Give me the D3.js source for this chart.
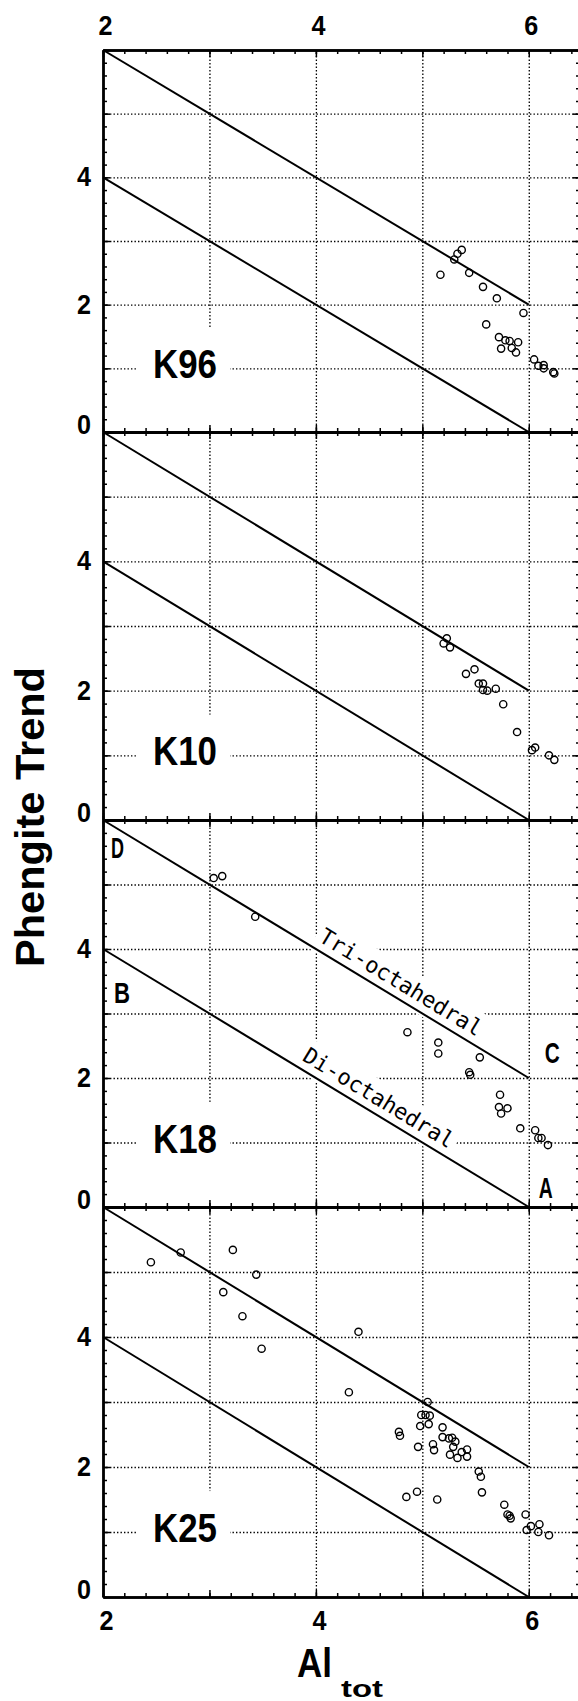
<!DOCTYPE html>
<html>
<head>
<meta charset="utf-8">
<script src="https://cdn.jsdelivr.net/npm/d3@7"></script>
<style>
  body { margin: 0; background: #fff; }
  svg { display: block; }
  text { font-family: "Liberation Sans", Arial, sans-serif; }
</style>
</head>
<body>
<svg id="chart"></svg>
<script>
// panels and ticks
var panelNames = ["K96", "K10", "K18", "K25"];
var xTickLabels = [2, 4, 6];
var yTickLabels = [0, 2, 4];

// [Al tot, phengite trend]
var k96 = [[5.17,2.47],[5.30,2.71],[5.33,2.80],[5.37,2.86],[5.44,2.50],[5.57,2.28],[5.70,2.10],
  [5.95,1.87],[5.60,1.69],[5.72,1.49],[5.78,1.44],[5.82,1.43],[5.90,1.41],[5.74,1.31],[5.84,1.32],
  [5.88,1.25],[6.05,1.14],[6.09,1.04],[6.14,1.05],[6.14,1.00],[6.23,0.94],[6.24,0.92]];
var k10 = [[5.23,2.81],[5.20,2.73],[5.26,2.67],[5.41,2.26],[5.49,2.33],[5.53,2.11],[5.57,2.11],
  [5.57,2.01],[5.61,2.00],[5.69,2.03],[5.76,1.79],[5.89,1.36],[6.03,1.08],[6.06,1.12],[6.19,1.00],
  [6.24,0.93]];
var k18 = [[3.04,5.10],[3.12,5.13],[3.43,4.50],[4.86,2.71],[5.15,2.55],[5.15,2.38],[5.54,2.32],
  [5.44,2.09],[5.45,2.05],[5.73,1.74],[5.72,1.55],[5.80,1.53],[5.74,1.45],[5.92,1.22],[6.06,1.19],
  [6.09,1.07],[6.12,1.07],[6.18,0.96]];
var k25 = [[2.45,5.15],[2.73,5.30],[3.22,5.34],[3.44,4.96],[3.13,4.69],[3.31,4.32],[3.49,3.82],
  [4.40,4.08],[4.31,3.15],[5.05,3.00],[4.99,2.80],[5.03,2.80],[5.07,2.79],[4.98,2.63],[5.06,2.66],
  [4.78,2.54],[4.79,2.48],[5.19,2.61],[5.19,2.46],[5.25,2.44],[5.28,2.45],[5.31,2.39],[5.29,2.31],
  [4.96,2.31],[5.10,2.35],[5.11,2.26],[5.26,2.19],[5.33,2.14],[5.37,2.23],[5.42,2.27],[5.42,2.16],
  [5.53,1.93],[5.55,1.85],[5.56,1.61],[4.85,1.54],[4.95,1.62],[5.14,1.50],[5.77,1.42],[5.80,1.27],
  [5.82,1.25],[5.83,1.21],[5.97,1.27],[6.02,1.09],[5.98,1.03],[6.10,1.12],[6.09,1.00],[6.19,0.95]];
var samples = [k96, k10, k18, k25];

// the two reference lines
var trendNames = ["Tri-octahedral", "Di-octahedral"];
var trendStart = [[2, 6], [2, 4]];
var trendEnd = [[6, 2], [6, 0]];

// end point letters (only on K18)
var endLetters = ["D", "B", "C", "A"];
var endPoints = [[2, 6], [2, 4], [6, 2], [6, 0]];

var width = 578, height = 1701;
var panelTop = [50, 432, 820, 1207];
var panelBottom = [432, 820, 1207, 1597];

var svg = d3.select("#chart").attr("width", width).attr("height", height);
svg.append("rect").attr("width", width).attr("height", height).attr("fill", "#fff");

var x = d3.scaleLinear().domain([2, 6.5]).range([103, 582]);
var minorX = d3.range(0, 23).map(function (k) { return +(2 + k * 0.2).toFixed(1); });
var majorX = [2, 3, 4, 5, 6];
var minorY = d3.range(0, 31).map(function (k) { return +(k * 0.2).toFixed(1); });
var majorY = [0, 1, 2, 3, 4, 5, 6];
var fmt = d3.format("d");

function styleGrid(sel) {
  sel.select(".domain").remove();
  sel.selectAll("line")
    .attr("stroke", "#000")
    .attr("stroke-width", 1.3)
    .attr("stroke-dasharray", "1.4,2.1");
}
function styleTicks(sel) {
  sel.select(".domain").attr("stroke", "#000").attr("stroke-width", 2.4);
  sel.selectAll(".tick line").attr("stroke", "#000").attr("stroke-width", 1.5);
}
// tall narrow digits like the original
function styleLabels(sel) {
  sel.select(".domain").remove();
  sel.selectAll("text")
    .attr("fill", "#000")
    .attr("textLength", 14).attr("lengthAdjust", "spacingAndGlyphs")
    .style("font-family", '"Liberation Sans", Arial, sans-serif')
    .style("font-size", "27px")
    .style("font-weight", "bold");
}

panelNames.forEach(function (name, i) {
  var y = d3.scaleLinear().domain([0, 6]).range([panelBottom[i], panelTop[i]]);
  var ph = panelBottom[i] - panelTop[i];
  var g = svg.append("g").attr("class", "panel");

  // dotted grid
  g.append("g").attr("transform", "translate(0," + panelBottom[i] + ")")
    .call(d3.axisBottom(x).tickValues([3, 4, 5, 6]).tickSize(-ph).tickFormat(""))
    .call(styleGrid);
  g.append("g").attr("transform", "translate(" + x(2) + ",0)")
    .call(d3.axisLeft(y).tickValues([1, 2, 3, 4, 5]).tickSize(-(x(6.5) - x(2))).tickFormat(""))
    .call(styleGrid);

  // white box behind panel name
  g.append("rect")
    .attr("x", x(2) + 35).attr("width", 92)
    .attr("y", y(1.63)).attr("height", y(0) - y(1.63))
    .attr("fill", "#fff");

  // line names on K18
  if (i === 2) {
    var textShift = [-3, -22];
    var textLen = [186, 172];
    trendNames.forEach(function (t, j) {
      var s = trendStart[j], e = trendEnd[j];
      var yAt4 = s[1] + (4 - s[0]) * (e[1] - s[1]) / (e[0] - s[0]);
      var ang = Math.atan2(y(e[1]) - y(s[1]), x(e[0]) - x(s[0])) * 180 / Math.PI;
      var lg = g.append("g")
        .attr("transform", "translate(" + x(4) + "," + y(yAt4) + ") rotate(" + ang + ")");
      lg.append("rect")
        .attr("x", textShift[j] - 4).attr("y", -32)
        .attr("width", textLen[j] + 8).attr("height", 35)
        .attr("fill", "#fff");
      lg.append("text")
        .attr("x", textShift[j]).attr("y", -8)
        .attr("textLength", textLen[j]).attr("lengthAdjust", "spacingAndGlyphs")
        .style("font-family", '"DejaVu Sans Mono", monospace')
        .style("font-size", "22px")
        .text(t);
    });
  }

  // trend lines
  g.selectAll(".trend").data(trendNames).join("line")
    .attr("class", "trend")
    .attr("x1", function (d, j) { return x(trendStart[j][0]); })
    .attr("y1", function (d, j) { return y(trendStart[j][1]); })
    .attr("x2", function (d, j) { return x(trendEnd[j][0]); })
    .attr("y2", function (d, j) { return y(trendEnd[j][1]); })
    .attr("stroke", "#000").attr("stroke-width", 2);

  // frame with inward ticks
  var bottom = g.append("g").attr("transform", "translate(0," + panelBottom[i] + ")");
  bottom.append("g").call(d3.axisBottom(x).tickValues(minorX).tickSizeInner(-4).tickSizeOuter(0).tickFormat("")).call(styleTicks);
  bottom.append("g").call(d3.axisBottom(x).tickValues(majorX).tickSizeInner(-7).tickSizeOuter(0).tickFormat("")).call(styleTicks);
  var top = g.append("g").attr("transform", "translate(0," + panelTop[i] + ")");
  top.append("g").call(d3.axisTop(x).tickValues(minorX).tickSizeInner(-4).tickSizeOuter(0).tickFormat("")).call(styleTicks);
  top.append("g").call(d3.axisTop(x).tickValues(majorX).tickSizeInner(-7).tickSizeOuter(0).tickFormat("")).call(styleTicks);
  var left = g.append("g").attr("transform", "translate(" + x(2) + ",0)");
  left.append("g").call(d3.axisLeft(y).tickValues(minorY).tickSizeInner(-4).tickSizeOuter(0).tickFormat("")).call(styleTicks);
  left.append("g").call(d3.axisLeft(y).tickValues(majorY).tickSizeInner(-7).tickSizeOuter(0).tickFormat("")).call(styleTicks);
  var right = g.append("g").attr("transform", "translate(" + x(6.5) + ",0)");
  right.append("g").call(d3.axisRight(y).tickValues(minorY).tickSizeInner(-6).tickSizeOuter(0).tickFormat("")).call(styleTicks);
  right.append("g").call(d3.axisRight(y).tickValues(majorY).tickSizeInner(-9).tickSizeOuter(0).tickFormat("")).call(styleTicks);

  // y tick labels
  g.append("g").attr("transform", "translate(" + (x(2) - 12) + ",0)")
    .call(d3.axisLeft(y).tickValues(yTickLabels).tickFormat(fmt).tickSize(0).tickPadding(0))
    .call(styleLabels)
    .selectAll(".tick text")
    .attr("y", function (d) { return d === 0 ? -7 : 0; });

  // points
  g.selectAll(".pt").data(samples[i]).join("circle")
    .attr("class", "pt")
    .attr("cx", function (d) { return x(d[0]); })
    .attr("cy", function (d) { return y(d[1]); })
    .attr("r", 3.6)
    .attr("fill", "none").attr("stroke", "#000").attr("stroke-width", 1.4);

  // panel name
  g.append("text")
    .attr("x", x(2) + 50).attr("y", y(1) + 10)
    .attr("textLength", 64).attr("lengthAdjust", "spacingAndGlyphs")
    .style("font-size", "41px").style("font-weight", "bold")
    .text(name);

  if (i === 2) {
    var letterDx = [8, 11, 16, 10];
    var letterDy = [38, 54, -15, -9];
    var letterLen = [13, 16, 15, 14];
    g.selectAll(".end").data(endLetters).join("text")
      .attr("class", "end")
      .attr("x", function (d, j) { return x(endPoints[j][0]) + letterDx[j]; })
      .attr("y", function (d, j) { return y(endPoints[j][1]) + letterDy[j]; })
      .attr("textLength", function (d, j) { return letterLen[j]; })
      .attr("lengthAdjust", "spacingAndGlyphs")
      .style("font-size", "30px").style("font-weight", "bold")
      .text(function (d) { return d; });
  }

  if (i === 0) {
    g.append("g").attr("transform", "translate(2," + panelTop[i] + ")")
      .call(d3.axisTop(x).tickValues(xTickLabels).tickFormat(fmt).tickSize(0).tickPadding(15))
      .call(styleLabels);
  }
  if (i === 3) {
    g.append("g").attr("transform", "translate(3," + panelBottom[i] + ")")
      .call(d3.axisBottom(x).tickValues(xTickLabels).tickFormat(fmt).tickSize(0).tickPadding(14))
      .call(styleLabels);
  }
});

// axis titles
svg.append("text")
  .attr("transform", "translate(44,817) rotate(-90)")
  .attr("text-anchor", "middle")
  .attr("textLength", 300).attr("lengthAdjust", "spacingAndGlyphs")
  .style("font-size", "40px").style("font-weight", "bold")
  .text("Phengite Trend");
svg.append("text")
  .attr("x", 297).attr("y", 1677)
  .attr("textLength", 35).attr("lengthAdjust", "spacingAndGlyphs")
  .style("font-size", "40px").style("font-weight", "bold")
  .text("Al");
svg.append("text")
  .attr("x", 341).attr("y", 1697)
  .attr("textLength", 42).attr("lengthAdjust", "spacingAndGlyphs")
  .style("font-size", "24px").style("font-weight", "bold")
  .text("tot");
</script>
</body>
</html>
